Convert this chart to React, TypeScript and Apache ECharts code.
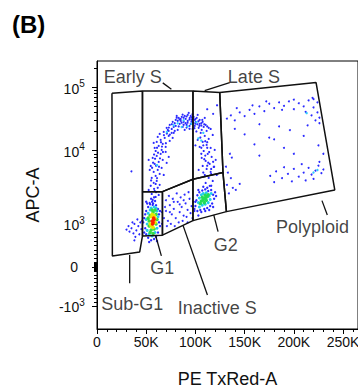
import React, { useEffect, useRef } from 'react';
import * as echarts from 'echarts';

// ---------- axis ranges (x in thousands of PE TxRed-A units, y in raw APC-A units) ----------
const X_MAX = 265.2;
const Y_MAX = 262144;
const Y_MIN = -1590;

const xMajorTicks = [0, 50, 100, 150, 200, 250];
const xMinorTicks = [10, 20, 30, 40, 60, 70, 80, 90, 110, 120, 130, 140, 160, 170, 180, 190, 210, 220, 230, 240, 260];
const yMajorTicks = [-1000, 0, 1000, 10000, 100000];
const yMinorTicks = [
  -900, -800, -700, -600, -500, -400, -300, -200, -100,
  -90, -80, -70, -60, -50, -40, -30, -20, -10,
  10, 20, 30, 40, 50, 60, 70, 80, 90,
  100, 200, 300, 400, 500, 600, 700, 800, 900,
  2000, 3000, 4000, 5000, 6000, 7000, 8000, 9000,
  20000, 30000, 40000, 50000, 60000, 70000, 80000, 90000,
  200000,
];

// ---------- gates [x (K), y] ----------
const gateSubG1 = [[15.2, 80900], [46.2, 88000], [46.2, 720], [43.4, 350], [15.6, 256]];
const gateEarlyS = [[46.2, 88000], [97.5, 88000], [97.5, 4060], [66.5, 2750], [46.2, 2750]];
const gateLateS = [[97.5, 88000], [124.7, 82700], [128, 5000], [97.5, 4060]];
const gateG1 = [[46.2, 2750], [66.5, 2750], [66.5, 740], [46.2, 720]];
const gateInactiveS = [[66.5, 2750], [97.5, 4060], [97.5, 1110], [66.5, 740]];
const gateG2 = [[97.5, 4060], [128, 5000], [131.5, 1470], [97.5, 1110]];
const gatePolyploid = [[124.7, 82700], [222.6, 119000], [241.6, 2900], [131.5, 1470], [128, 5000]];

const leaderLines = [
  [[66.8, 117800], [75.6, 93600]],
  [[134.8, 119000], [109.4, 89000]],
  [[228.6, 2075], [234, 1325]],
  [[118.6, 1330], [123, 821]],
  [[59.7, 720], [65.4, 256]],
  [[87.4, 967], [112.2, -718]],
  [[33.2, 279], [33.2, -418]],
];

const gateLabelNames = ['Early S', 'Late S', 'Polyploid', 'G2', 'G1', 'Inactive S', 'Sub-G1'];
const gateLabelX = [36.4, 159.4, 219, 130.8, 66.2, 122.1, 35.8];
const gateLabelY = [147000, 147000, 930, 512, -33, -1059, -949];

// ---------- events [x (K), y] ----------
const subG1Blue = [
  [32, 950], [35, 900], [38, 1000], [40, 850], [42, 950], [37, 780], [44, 1050], [39, 700],
  [33, 820], [41, 1150], [36, 1050], [43, 760], [45, 880], [30, 870], [38, 620], [35, 5200],
];

const g1Blue = [
  [49, 900], [48, 1200], [50, 1500], [52, 1700], [54, 1850], [57, 1900], [60, 1800], [62, 1600],
  [63, 1350], [63, 1050], [62, 800], [60, 700], [58, 650], [55, 620], [52, 680], [50, 760],
  [47, 1050], [49, 1350], [51, 1900], [56, 2000], [59, 2050], [64, 1500], [64, 950], [61, 600],
  [53, 580], [48, 800], [46, 1100], [50, 2000], [55, 2200], [58, 2300],
];
const g1Cyan = [
  [51, 1000], [52, 1400], [55, 1650], [58, 1700], [61, 1500], [62, 1250], [61, 900], [59, 800],
  [56, 720], [53, 760], [51, 850], [50, 1150], [54, 1550], [60, 1650],
];
const g1Green = [
  [53, 1100], [54, 1300], [57, 1450], [60, 1350], [60, 1000], [58, 880], [55, 860], [53, 950],
  [52, 1200], [56, 1550], [59, 1550], [54, 800], [61, 1150], [57, 780],
];
const g1Yellow = [[55, 1250], [58, 1300], [59, 1050], [54, 1000], [55, 950], [57, 920], [59, 1200], [56, 1350]];
const g1Red = [[56, 1100], [57, 1050], [58, 1150], [56.5, 1000], [57.5, 1200]];

const inactiveSBlue = [
  [68, 1200], [70, 1500], [72, 1100], [74, 1800], [76, 1350], [78, 1600], [80, 1200], [82, 2000],
  [84, 1450], [86, 1700], [88, 1300], [90, 1900], [92, 1550], [94, 2200], [96, 1750], [70, 2100],
  [73, 2400], [77, 2200], [81, 2600], [85, 2300], [89, 2500], [93, 2700], [75, 1000], [79, 950],
  [83, 1050], [87, 1100], [91, 1250], [95, 1400], [97, 1200], [69, 1700], [71, 950], [88, 2100],
  [84, 1850], [78, 2000], [74, 1450], [66, 1000], [66, 1450], [98, 2000], [99, 1500], [92, 1050],
];

const sPhaseBlue = [
  [53.5, 1930], [56.6, 2120], [59.6, 2330], [55.6, 2560], [58.6, 2810], [61.7, 3100], [54.6, 3300],
  [57.6, 3620], [60.7, 3850], [63.7, 3400], [52.5, 2900], [62.7, 2480], [56.6, 1810], [59.6, 3500],
  [55.6, 4230], [59.6, 4500], [63.7, 4790], [57.6, 5100], [61.7, 5430], [65.7, 5780], [54.6, 6150],
  [58.6, 6550], [62.7, 6980], [66.8, 7430], [56.6, 7910], [60.7, 8420], [64.7, 8960], [69.8, 9540],
  [59.6, 9820], [53.6, 5430], [70.8, 6760], [67.8, 4640], [52.5, 7430], [72.9, 8160],
  [58.6, 10960], [62.7, 11790], [66.8, 12680], [60.7, 13640], [64.7, 14680], [68.8, 15790],
  [72.9, 16990], [63.7, 18280], [67.8, 19660], [71.9, 21150], [75.9, 18960], [61.7, 16380],
  [73.9, 14150], [79, 20400], [57.6, 13150], [69.8, 11370], [65.7, 10180], [76.9, 15790],
  [70.8, 22800], [73.9, 25400], [76.9, 28400], [80, 30500], [83, 32800], [86.1, 34000], [89.1, 35300],
  [92.2, 36600], [95.2, 35300], [98.2, 34000], [101.3, 32800], [104.3, 30500], [107.4, 28400],
  [110.4, 25400], [113.5, 22800], [75.9, 21900], [80, 24500], [84, 26400], [88.1, 28400], [92.2, 29400],
  [96.2, 30500], [100.3, 28400], [104.3, 26400], [108.4, 23600], [82, 21150], [87.1, 23600],
  [91.1, 25400], [95.2, 26400], [99.3, 24500], [103.3, 22800], [85.1, 29400], [90.1, 31600],
  [94.2, 32800], [99.3, 30500], [77.9, 23600], [72.8, 20400], [106.4, 21150], [111.4, 20400],
  [115.5, 21900], [89.1, 21150], [97.2, 21900], [93.2, 39400], [102.3, 36600], [81, 35300], [109.5, 32800],
  [105.4, 18960], [109.5, 16990], [113.5, 15230], [107.4, 13640], [111.4, 12230], [115.5, 10960],
  [104.3, 11370], [108.4, 9820], [112.5, 8960], [116.5, 8160], [106.4, 7910], [110.4, 7200],
  [114.5, 6550], [118.6, 5960], [107.4, 6150], [111.4, 5600], [115.5, 5100], [109.5, 4640],
  [113.5, 4230], [117.6, 3840], [110.4, 3610], [114.5, 3290], [102.3, 14680], [119.6, 10180],
  [120.6, 7430], [103.3, 5430], [121.6, 4640], [117.6, 17600],
  [58, 3000], [61, 4200], [56, 5800], [60, 6200], [64, 7800], [58, 8800], [62, 9300], [66, 11500],
  [70, 13000], [74, 17800], [78, 19000], [83, 24000], [86, 27500], [90, 27000], [94, 24500],
  [98, 27500], [102, 26000], [106, 24800], [101, 20000], [105, 16000], [110, 14000], [112, 11000],
  [109, 7600], [113, 6800], [116, 5600], [106, 9000], [100, 12000], [94, 22000], [84, 31000], [96, 33500],
  [112, 45000], [118, 38000], [122, 52000],
  [79, 27000], [82, 29500], [85, 31500], [88, 33000], [91, 34500], [94, 31000], [97, 32000], [100, 31500],
  [103, 29000], [106, 27000], [109, 26000], [112, 24000], [88, 25500], [92, 27500], [96, 28500],
  [100, 26500], [104, 24500], [76, 26000], [73, 23000], [81, 33000], [87, 37000], [97, 37500],
  [91, 23000], [99, 22500], [107, 30500],
  [108, 12000], [112, 13500], [106, 11000], [114, 9500], [110, 8500], [118, 7000], [112, 6200],
  [116, 4800], [108, 5000], [119, 6000],
  [55, 3900], [60, 2700], [57, 6800], [63, 6000], [59, 7700], [61, 11000], [65, 13500], [68, 17500],
  [71, 18500], [67, 9500],
];
const sPhaseCyan = [
  [78, 25000], [86, 23500], [92, 24000], [103, 15500], [106, 14300], [61, 6300], [71, 19500],
  [82, 27000], [96, 26500], [101, 28000], [88, 30000], [108, 19000],
];

const g2Blue = [
  [100, 1750], [101, 2100], [102, 2450], [104, 2700], [107, 2850], [110, 2950], [113, 2800], [116, 2900],
  [118, 2500], [119, 2200], [117, 1900], [115, 1750], [112, 1650], [109, 1600], [105, 1550], [102, 1500],
  [100, 2000], [99, 1600], [103, 2900], [108, 3200], [112, 3100], [116, 3300], [120, 2700], [121, 2400],
  [118, 1700], [106, 1450], [103, 1300], [110, 1500], [114, 1550],
];
const g2Cyan = [
  [103, 1950], [104, 2250], [106, 2500], [108, 2600], [111, 2650], [114, 2400], [115, 2150], [113, 1950],
  [110, 1850], [107, 1800], [104, 1700], [116, 2600],
];
const g2Green = [
  [106, 2050], [108, 2150], [110, 2250], [112, 2350], [107, 2300], [109, 1950], [111, 2100], [113, 2500],
  [105, 1900], [110, 2450],
];

const polyploidBlue = [
  [132, 32000], [136, 36000], [140, 30000], [145, 40000], [150, 35000], [155, 44000], [160, 38000],
  [165, 50000], [170, 42000], [175, 55000], [180, 47000], [185, 58000], [190, 51000], [195, 60000],
  [200, 45000], [205, 56000], [210, 50000], [215, 62000], [220, 48000], [224, 58000], [224, 40000],
  [226, 33000], [222, 30000], [218, 36000], [212, 41000], [188, 44000], [172, 60000], [158, 52000],
  [142, 47000], [220, 65000], [219, 68000], [200, 64000], [226, 27000], [214, 25000], [140, 22000],
  [150, 18000], [165, 26000], [180, 15000], [196, 21000], [210, 17000], [225, 12000], [160, 12500],
  [230, 9000], [137, 8000], [175, 16000], [190, 11000], [165, 8500], [200, 9000], [185, 24000],
  [176, 4500], [182, 5200], [188, 4200], [194, 4800], [200, 5600], [205, 4400], [210, 5000], [215, 5800],
  [218, 4700], [222, 5300], [225, 6200], [228, 4900], [212, 3900], [198, 3800], [190, 5900], [208, 6500],
  [226, 7000], [220, 4100], [180, 3700], [230, 5500],
  [134, 2600], [138, 3100], [132, 3400], [141, 2900], [145, 3500], [136, 4200], [133, 5000], [131, 6000], [135, 9000],
];
const polyploidCyan = [[213, 39000], [220, 5000], [224, 5400]];

// ---------- logicle-like display transform for APC-A ----------
function T(v: number): number {
  if (v >= 1e4) return 178.5 + 63 * Math.log10(v / 1e4);
  if (v >= 1e3) return 105 + 73.5 * Math.log10(v / 1e3);
  if (v >= 0) return 62 + 0.043 * v;
  return 62 + 0.039 * v;
}

const FONT = '"Liberation Sans", Arial, Helvetica, sans-serif';
const pts = (arr: number[][]) => arr.map(([x, y]) => [x, T(y)]);

function dots(data: number[][], color: string, size: number, z: number) {
  return {
    type: 'scatter',
    data: pts(data),
    symbolSize: size,
    itemStyle: { color, opacity: 1 },
    silent: true,
    z,
  };
}

function poly(gate: number[][]) {
  return {
    type: 'line',
    data: pts([...gate, gate[0]]),
    symbol: 'none',
    lineStyle: { color: '#111', width: 1.5 },
    silent: true,
    z: 5,
  };
}

function yLabel(v: number): string {
  let raw = yMajorTicks[0];
  for (const t of yMajorTicks) if (Math.abs(T(t) - v) < 0.01) raw = t;
  if (raw === 0) return '{z|0}';
  const exp = Math.round(Math.log10(Math.abs(raw)));
  return (raw < 0 ? '{b|-10}' : '{b|10}') + '{s|' + exp + '}{h| }';
}

export default function App() {
  const ref = useRef<HTMLDivElement>(null);
  useEffect(() => {
    const chart = echarts.init(ref.current!, null, { renderer: 'svg' });
    const yMin = T(Y_MIN);
    const yMax = T(Y_MAX);
    const option: any = {
      animation: false,
      backgroundColor: '#fff',
      title: {
        text: '(B)',
        left: 7,
        top: 7,
        textStyle: { fontSize: 24, fontWeight: 'bold', color: '#000', fontFamily: FONT },
      },
      grid: {
        left: 97, top: 61, width: 261, height: 268,
        outerBoundsMode: 'none',
        containLabel: false,
        show: true, borderColor: '#000', borderWidth: 1, backgroundColor: 'transparent',
      },
      xAxis: [
        {
          type: 'value', min: 0, max: X_MAX, position: 'bottom',
          axisLine: { show: true, lineStyle: { color: '#000', width: 1 } },
          axisTick: { show: true, customValues: xMajorTicks, length: 5, lineStyle: { color: '#000' } },
          axisLabel: {
            customValues: xMajorTicks,
            formatter: (v: number) => (v === 0 ? '0' : v + 'K'),
            fontSize: 14, color: '#111', margin: 6, fontFamily: FONT,
          },
          splitLine: { show: false },
          name: 'PE TxRed-A', nameLocation: 'middle', nameGap: 41,
          nameTextStyle: { fontSize: 18, color: '#111', fontFamily: FONT },
        },
        {
          type: 'value', min: 0, max: X_MAX, position: 'bottom',
          axisLine: { show: false },
          axisTick: { show: true, customValues: xMinorTicks, length: 3, lineStyle: { color: '#000' } },
          axisLabel: { show: false },
          splitLine: { show: false },
        },
      ],
      yAxis: [
        {
          type: 'value', min: yMin, max: yMax, position: 'left',
          axisLine: { show: true, lineStyle: { color: '#000', width: 1 } },
          axisTick: { show: true, customValues: yMajorTicks.map(T), length: 5, lineStyle: { color: '#000' } },
          axisLabel: {
            customValues: yMajorTicks.map(T),
            formatter: yLabel,
            fontSize: 14, color: '#111', margin: 12, fontFamily: FONT,
            rich: {
              b: { fontSize: 14, lineHeight: 14, verticalAlign: 'bottom', color: '#111', fontFamily: FONT },
              s: { fontSize: 10, lineHeight: 10, verticalAlign: 'top', color: '#111', fontFamily: FONT },
              h: { fontSize: 1, lineHeight: 17 },
              z: { fontSize: 14, color: '#111', fontFamily: FONT, padding: [0, 7, 0, 0] },
            },
          },
          splitLine: { show: false },
          name: 'APC-A', nameLocation: 'middle', nameGap: 55, nameRotate: 90,
          nameTextStyle: { fontSize: 18, color: '#111', fontFamily: FONT },
        },
        {
          type: 'value', min: yMin, max: yMax, position: 'left',
          axisLine: { show: false },
          axisTick: { show: true, customValues: yMinorTicks.map(T), length: 3, lineStyle: { color: '#000' } },
          axisLabel: { show: false },
          splitLine: { show: false },
        },
      ],
      series: [
        dots(subG1Blue, '#2a2aff', 2, 2),
        dots(inactiveSBlue, '#2a2aff', 2, 2),
        dots(sPhaseBlue, '#2a2aff', 2.2, 2),
        dots(polyploidBlue, '#2a2aff', 2, 2),
        dots(g2Blue, '#2a2aff', 2.4, 2),
        dots(g1Blue, '#2a2aff', 2.4, 2),
        dots(sPhaseCyan, '#33ccff', 2.4, 3),
        dots(polyploidCyan, '#33ccff', 2.4, 3),
        dots(g2Cyan, '#22ccee', 3, 3),
        dots(g1Cyan, '#22ccee', 3, 3),
        dots(g2Green, '#22dd55', 3.5, 3),
        dots(g1Green, '#33dd44', 3.5, 3),
        dots(g1Yellow, '#e8e800', 3.5, 4),
        dots(g1Red, '#ff2200', 3.5, 4),
        poly(gateSubG1),
        poly(gateEarlyS),
        poly(gateLateS),
        poly(gateG1),
        poly(gateInactiveS),
        poly(gateG2),
        poly(gatePolyploid),
        ...leaderLines.map((l) => ({
          type: 'line',
          data: pts(l),
          symbol: 'none',
          lineStyle: { color: '#111', width: 1.3 },
          silent: true,
          z: 5,
        })),
        {
          type: 'scatter',
          symbolSize: 0,
          silent: true,
          z: 6,
          data: gateLabelNames.map((n, i) => ({ name: n, value: [gateLabelX[i], T(gateLabelY[i])] })),
          label: {
            show: true, position: 'inside', formatter: '{b}',
            fontSize: 18, color: '#111', fontFamily: FONT,
          },
        },
      ],
    };
    chart.setOption(option);
    return () => chart.dispose();
  }, []);
  return <div ref={ref} style={{ position: 'fixed', left: 0, top: 0, width: 358, height: 389 }} />;
}
